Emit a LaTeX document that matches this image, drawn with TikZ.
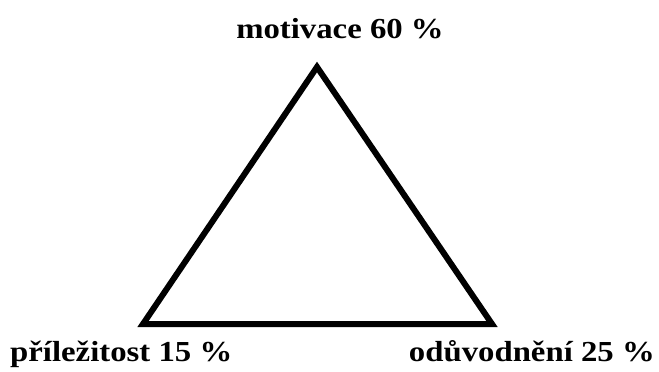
\documentclass[tikz,border=0pt]{standalone}
\usepackage{graphicx}
\usepackage{fontspec}
\setmainfont{Liberation Serif}
\newcommand{\widelbl}[1]{\scalebox{1.13}[1]{#1}}
\begin{document}
\begin{tikzpicture}[x=1pt,y=-1pt,
  lbl/.style={font=\fontsize{29}{31}\selectfont\bfseries, inner sep=0pt}]
  \useasboundingbox (0,0) rectangle (659,372);
  % vertices
  \coordinate (top) at (317,67);
  \coordinate (left) at (143,324);
  \coordinate (right) at (492,324);
  % triangle
  \draw[line width=6pt] (top) -- (left) -- (right) -- cycle;
  % labels
  \node[lbl, anchor=base] (mot) at (340,38) {\widelbl{motivace 60 \%}};
  \node[lbl, anchor=base west] (pri) at (10,361) {\widelbl{příležitost 15 \%}};
  \node[lbl, anchor=base east] (odu) at (655,361) {\widelbl{odůvodnění 25 \%}};
\end{tikzpicture}
\end{document}
